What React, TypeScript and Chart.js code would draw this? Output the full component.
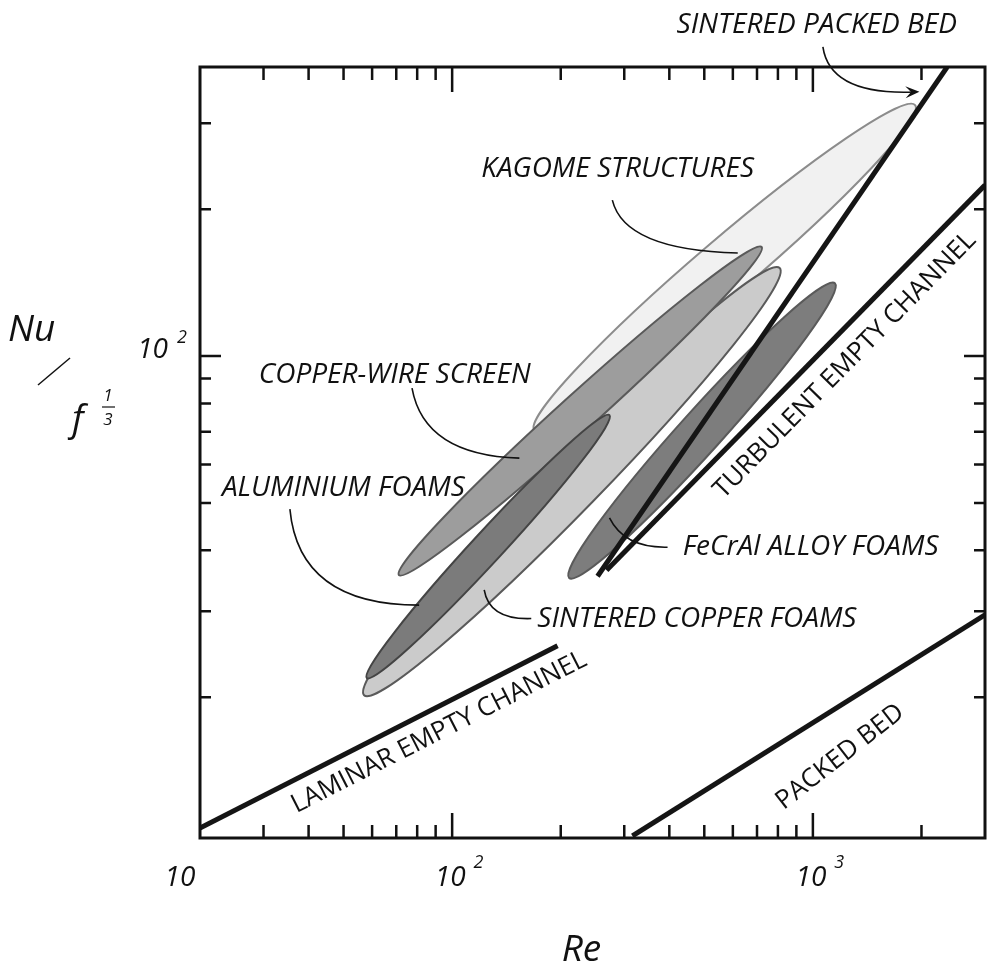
import React, { useEffect, useRef } from 'react';
import { Chart, registerables } from 'chart.js';

Chart.register(...registerables);

// ---------- axes (log-log) ----------
const reMin = 20;
const reMax = 3000;
const nuMin = 10.3;
const nuMax = 391;
const reMajorTicks = [100, 1000];
const reMinorTicks = [30, 40, 50, 60, 70, 80, 90, 200, 300, 400, 500, 600, 700, 800, 900, 2000];
const nuMajorTicks = [100];
const nuMinorTicks = [20, 30, 40, 50, 60, 70, 80, 90, 200, 300];
const reTickLabelValues = [20, 100, 1000];
const reTickLabelBases = ['10', '10', '10'];
const reTickLabelExps = ['', '2', '3'];
const nuTickLabelValues = [100];
const nuTickLabelBases = ['10'];
const nuTickLabelExps = ['2'];

// ---------- correlation lines ----------
const laminarRe = [20, 196];
const laminarNu = [10.8, 25.5];
const packedBedRe = [316, 3000];
const packedBedNu = [10.4, 29.5];
const turbulentRe = [268, 3000];
const turbulentNu = [36.4, 224];
const sinteredBedRe = [253, 2356];
const sinteredBedNu = [35.4, 391];

// ---------- material envelopes (ellipses: two tips + minor/major ratio) ----------
const ellipseNames = ['KAGOME STRUCTURES', 'SINTERED COPPER FOAMS', 'COPPER-WIRE SCREEN', 'ALUMINIUM FOAMS', 'FeCrAl ALLOY FOAMS'];
const ellipseRe1 = [169, 57, 71.2, 58, 211];
const ellipseNu1 = [70.5, 20.2, 35.6, 21.9, 35.1];
const ellipseRe2 = [1920, 809, 721, 273, 1151];
const ellipseNu2 = [326.8, 151.5, 167.3, 75.7, 141];
const ellipseAspect = [0.11, 0.097, 0.074, 0.085, 0.106];

// ---------- annotations ----------
const labelTexts = ['SINTERED PACKED BED', 'KAGOME STRUCTURES', 'COPPER-WIRE SCREEN', 'ALUMINIUM FOAMS', 'FeCrAl ALLOY FOAMS', 'SINTERED COPPER FOAMS'];
const labelRe = [419, 120.4, 29.1, 23.0, 435.5, 172.2];
const labelNu = [459, 232.7, 88.0, 51.6, 39.1, 27.8];
const leaderStartRe = [1066, 278, 77.4, 35.5, 395.5, 165.7];
const leaderStartNu = [430, 208.7, 86.0, 48.6, 40.6, 29.0];
const leaderCtrlRe = [1115, 300.5, 83.6, 37.6, 300.5, 126.7];
const leaderCtrlNu = [342.6, 164.9, 62.7, 30.9, 40.4, 28.8];
const leaderEndRe = [1900, 619, 153.6, 81.0, 273, 122.7];
const leaderEndNu = [347.5, 162.6, 61.8, 30.9, 46.6, 33.2];
const leaderArrow = [true, false, false, false, false, false];

const lineLabelTexts = ['LAMINAR EMPTY CHANNEL', 'TURBULENT EMPTY CHANNEL', 'PACKED BED'];
const lineLabelRe = [92.0, 1227, 1190];
const lineLabelNu = [16.96, 95.8, 15.1];
const lineLabelAngleDeg: (number | null)[] = [null, null, -38];

// ---------- styles ----------
const ELLIPSE_FILL = ['#f1f1f1', '#cbcbcb', '#9d9d9d', '#7b7b7b', '#7d7d7d'];
const ELLIPSE_STROKE = ['#8c8c8c', '#5a5a5a', '#5a5a5a', '#444444', '#5a5a5a'];
const LINE_COLOR = '#151515';
const ITALIC = 'italic 28px "Open Sans", "Noto Sans", sans-serif';
const REGULAR = '26px "Open Sans", "Noto Sans", sans-serif';

const pts = (re: number[], nu: number[]) => re.map((r, i) => ({ x: r, y: nu[i] }));

export default function App() {
  const ref = useRef<HTMLCanvasElement>(null);

  useEffect(() => {
    const canvas = ref.current;
    if (!canvas) return;

    const X = (c: any, v: number) => c.scales.x.getPixelForValue(v);
    const Y = (c: any, v: number) => c.scales.y.getPixelForValue(v);

    const ellipsePlugin = {
      id: 'ellipses',
      beforeDatasetsDraw(chart: any) {
        const ctx = chart.ctx;
        ctx.save();
        for (let i = 0; i < ellipseNames.length; i++) {
          const x1 = X(chart, ellipseRe1[i]);
          const y1 = Y(chart, ellipseNu1[i]);
          const x2 = X(chart, ellipseRe2[i]);
          const y2 = Y(chart, ellipseNu2[i]);
          const cx = (x1 + x2) / 2;
          const cy = (y1 + y2) / 2;
          const a = Math.hypot(x2 - x1, y2 - y1) / 2;
          const b = a * ellipseAspect[i];
          const ang = Math.atan2(y2 - y1, x2 - x1);
          ctx.beginPath();
          ctx.ellipse(cx, cy, a, b, ang, 0, Math.PI * 2);
          ctx.fillStyle = ELLIPSE_FILL[i];
          ctx.fill();
          ctx.lineWidth = 2;
          ctx.strokeStyle = ELLIPSE_STROKE[i];
          ctx.stroke();
        }
        ctx.restore();
      },
    };

    const decorPlugin = {
      id: 'decor',
      afterDraw(chart: any) {
        const ctx = chart.ctx;
        const { left, right, top, bottom } = chart.chartArea;
        ctx.save();
        ctx.strokeStyle = '#111';
        ctx.fillStyle = '#111';
        ctx.lineCap = 'butt';

        // ticks
        ctx.lineWidth = 2.5;
        const xt = (v: number, len: number) => {
          const x = X(chart, v);
          ctx.beginPath();
          ctx.moveTo(x, bottom);
          ctx.lineTo(x, bottom - len);
          ctx.moveTo(x, top);
          ctx.lineTo(x, top + len);
          ctx.stroke();
        };
        const yt = (v: number, len: number) => {
          const y = Y(chart, v);
          ctx.beginPath();
          ctx.moveTo(left, y);
          ctx.lineTo(left + len, y);
          ctx.moveTo(right, y);
          ctx.lineTo(right - len, y);
          ctx.stroke();
        };
        reMinorTicks.forEach((v) => xt(v, 13));
        reMajorTicks.forEach((v) => xt(v, 25));
        nuMinorTicks.forEach((v) => yt(v, 11));
        nuMajorTicks.forEach((v) => yt(v, 21));

        // frame
        ctx.lineWidth = 3;
        ctx.strokeRect(left, top, right - left, bottom - top);

        // tick labels
        ctx.textBaseline = 'alphabetic';
        for (let i = 0; i < reTickLabelValues.length; i++) {
          let x = X(chart, reTickLabelValues[i]);
          if (i === 0) x -= 18;
          ctx.font = 'italic 28px "Open Sans", sans-serif';
          ctx.textAlign = 'center';
          ctx.fillText(reTickLabelBases[i], x - 2, bottom + 48);
          if (reTickLabelExps[i]) {
            const w = ctx.measureText(reTickLabelBases[i]).width;
            ctx.font = 'italic 18px "Open Sans", sans-serif';
            ctx.textAlign = 'left';
            ctx.fillText(reTickLabelExps[i], x - 2 + w / 2 + 8, bottom + 30);
          }
        }
        for (let i = 0; i < nuTickLabelValues.length; i++) {
          const y = Y(chart, nuTickLabelValues[i]);
          ctx.font = 'italic 28px "Open Sans", sans-serif';
          ctx.textAlign = 'right';
          ctx.fillText(nuTickLabelBases[i], left - 32, y + 2);
          ctx.font = 'italic 18px "Open Sans", sans-serif';
          ctx.textAlign = 'left';
          ctx.fillText(nuTickLabelExps[i], left - 23, y - 13);
        }

        // axis titles
        ctx.font = 'italic 37px "Open Sans", sans-serif';
        ctx.textAlign = 'center';
        ctx.fillText('Re', (left + right) / 2 - 11, bottom + 123);
        ctx.textAlign = 'left';
        ctx.fillText('Nu', 8, 341);
        ctx.lineWidth = 1.5;
        ctx.beginPath();
        ctx.moveTo(38, 385);
        ctx.lineTo(70, 358);
        ctx.stroke();
        ctx.fillText('f', 72, 431);
        ctx.font = 'italic 17px "Open Sans", sans-serif';
        ctx.textAlign = 'center';
        ctx.fillText('1', 108, 401);
        ctx.fillText('3', 108, 425);
        ctx.lineWidth = 1.2;
        ctx.beginPath();
        ctx.moveTo(102, 407);
        ctx.lineTo(115, 407);
        ctx.stroke();

        // callout labels with leaders
        ctx.font = ITALIC;
        ctx.textAlign = 'left';
        for (let i = 0; i < labelTexts.length; i++) {
          ctx.fillText(labelTexts[i], X(chart, labelRe[i]), Y(chart, labelNu[i]));
          const sx = X(chart, leaderStartRe[i]);
          const sy = Y(chart, leaderStartNu[i]);
          const cx = X(chart, leaderCtrlRe[i]);
          const cy = Y(chart, leaderCtrlNu[i]);
          const ex = X(chart, leaderEndRe[i]);
          const ey = Y(chart, leaderEndNu[i]);
          ctx.lineWidth = 1.6;
          ctx.beginPath();
          ctx.moveTo(sx, sy);
          ctx.quadraticCurveTo(cx, cy, ex, ey);
          ctx.stroke();
          if (leaderArrow[i]) {
            const ang = Math.atan2(ey - cy, ex - cx);
            const L = 14;
            const W = 6;
            const tx = ex + Math.cos(ang) * 6;
            const ty = ey + Math.sin(ang) * 6;
            ctx.beginPath();
            ctx.moveTo(tx, ty);
            ctx.lineTo(tx - L * Math.cos(ang) + W * Math.sin(ang), ty - L * Math.sin(ang) - W * Math.cos(ang));
            ctx.lineTo(tx - 0.6 * L * Math.cos(ang), ty - 0.6 * L * Math.sin(ang));
            ctx.lineTo(tx - L * Math.cos(ang) - W * Math.sin(ang), ty - L * Math.sin(ang) + W * Math.cos(ang));
            ctx.closePath();
            ctx.fill();
          }
        }

        // rotated line labels
        const lineSets = [
          [laminarRe, laminarNu],
          [turbulentRe, turbulentNu],
          [packedBedRe, packedBedNu],
        ];
        ctx.font = REGULAR;
        ctx.textAlign = 'center';
        ctx.textBaseline = 'middle';
        for (let i = 0; i < lineLabelTexts.length; i++) {
          const [re, nu] = lineSets[i];
          const override = lineLabelAngleDeg[i];
          const ang =
            override !== null
              ? (override * Math.PI) / 180
              : Math.atan2(Y(chart, nu[1]) - Y(chart, nu[0]), X(chart, re[1]) - X(chart, re[0]));
          ctx.save();
          ctx.translate(X(chart, lineLabelRe[i]), Y(chart, lineLabelNu[i]));
          ctx.rotate(ang);
          ctx.fillText(lineLabelTexts[i], 0, 0);
          ctx.restore();
        }
        ctx.restore();
      },
    };

    const common = {
      showLine: true,
      borderColor: LINE_COLOR,
      borderWidth: 5,
      pointRadius: 0,
      fill: false,
      borderCapStyle: 'butt',
    };

    const chart = new Chart(canvas, {
      type: 'scatter',
      data: {
        datasets: [
          { ...common, label: 'Laminar empty channel', data: pts(laminarRe, laminarNu) },
          { ...common, label: 'Packed bed', data: pts(packedBedRe, packedBedNu) },
          { ...common, label: 'Turbulent empty channel', data: pts(turbulentRe, turbulentNu) },
          { ...common, label: 'Sintered packed bed', data: pts(sinteredBedRe, sinteredBedNu) },
        ] as any,
      },
      options: {
        responsive: false,
        animation: false,
        events: [],
        layout: { padding: { left: 200, right: 6, top: 67, bottom: 128 } },
        plugins: { legend: { display: false }, tooltip: { enabled: false } },
        scales: {
          x: { type: 'logarithmic', min: reMin, max: reMax, display: false },
          y: { type: 'logarithmic', min: nuMin, max: nuMax, display: false },
        },
      } as any,
      plugins: [ellipsePlugin, decorPlugin],
    });
    return () => chart.destroy();
  }, []);

  return (
    <div style={{ position: 'absolute', left: 0, top: 0, width: 991, height: 966, background: '#fff' }}>
      <canvas ref={ref} width={991} height={966} style={{ display: 'block' }} />
    </div>
  );
}
